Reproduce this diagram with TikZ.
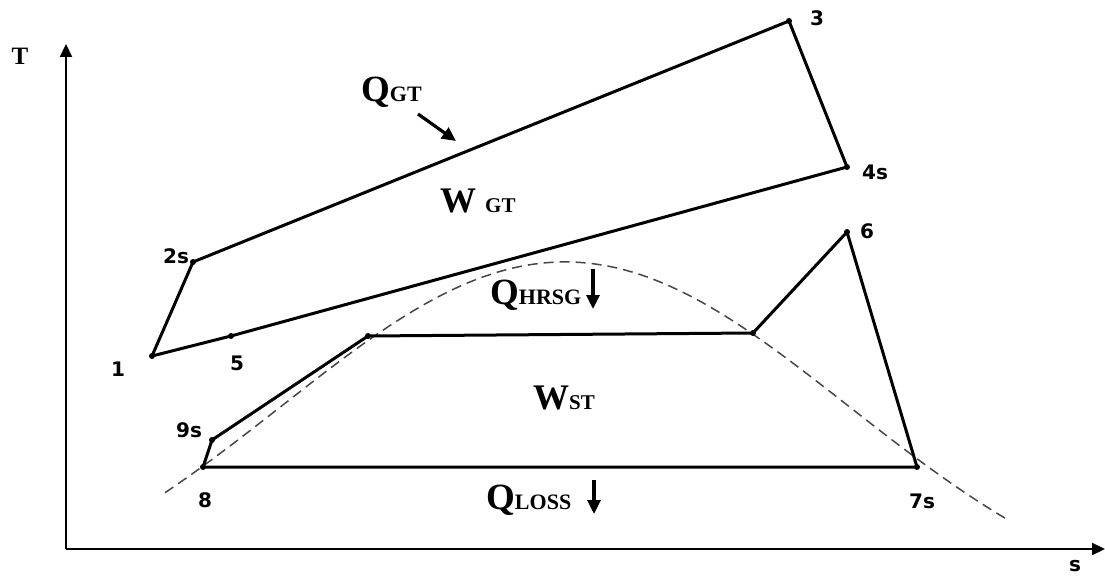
\documentclass[tikz,border=0pt]{standalone}
\usepackage{fontspec}
\setmainfont{Liberation Serif}
\newfontfamily\labfont{DejaVu Sans}
\usetikzlibrary{arrows.meta}
\begin{document}
\begin{tikzpicture}[x=1pt,y=-1pt,
  cyc/.style={line width=3pt, line join=round},
  axis/.style={line width=2.2pt, -{Triangle[length=13pt,width=12pt]}},
  heat/.style={line width=3.2pt, -{Triangle[length=14pt,width=13pt]}},
  dome/.style={line width=1.5pt, dash pattern=on 10pt off 6pt, gray!55!black},
  dot/.style={circle, fill, inner sep=0pt, minimum size=6pt},
  num/.style={font=\labfont\bfseries\fontsize{20}{20}\selectfont, inner sep=0pt},
  qty/.style={font=\bfseries, inner sep=0pt, anchor=base west}]
\useasboundingbox (0,0) rectangle (1105,577);
% axes
\coordinate (o) at (66,549);
\coordinate (ytip) at (66,44);
\coordinate (xtip) at (1105,549);
\draw[axis] (o) -- (ytip);
\draw[axis] (o) -- (xtip);
\node[font=\bfseries\fontsize{25}{25}\selectfont, inner sep=0pt] (T) at (20,56) {T};
\node[num] (s) at (1075,566) {s};
% dome
\draw[dome] plot[domain=165:1005, samples=120, smooth] (\x, {262+365*(1-exp(-((\x-565)/400)^2))});
% gas turbine cycle
\node[dot] (p1) at (152,356) {};
\node[dot] (p2) at (193,262) {};
\node[dot] (p3) at (789,21) {};
\node[dot] (p4) at (847,167) {};
\node[dot] (p5) at (231,336) {};
\draw[cyc] (p1.center) -- (p2.center) -- (p3.center) -- (p4.center) -- (p5.center) -- (p1.center);
% steam cycle
\node[dot] (p8) at (203,467) {};
\node[dot] (p9) at (212,440) {};
\node[dot] (pa) at (368,336) {};
\node[dot] (pb) at (753,333) {};
\node[dot] (p6) at (847,232) {};
\node[dot] (p7) at (917,467) {};
\draw[cyc] (p8.center) -- (p9.center) -- (pa.center) -- (pb.center) -- (p6.center) -- (p7.center) -- (p8.center);
% point labels
\node[num] (l1) at (118,369) {1};
\node[num] (l2) at (176,256) {2s};
\node[num] (l3) at (817,18) {3};
\node[num] (l4) at (875,172) {4s};
\node[num] (l5) at (237,363) {5};
\node[num] (l6) at (867,231) {6};
\node[num] (l7) at (922,501) {7s};
\node[num] (l8) at (205,500) {8};
\node[num] (l9) at (189,430) {9s};
% quantities
\node[qty] (qgt) at (361,102) {\fontsize{37}{37}\selectfont Q\fontsize{22}{22}\selectfont GT};
\node[qty] (wgt) at (440,213) {\fontsize{36}{36}\selectfont W\hspace{9pt}\fontsize{21}{21}\selectfont GT};
\node[qty] (qhrsg) at (490,305) {\fontsize{37}{37}\selectfont Q\fontsize{22}{22}\selectfont HRSG};
\node[qty] (wst) at (533,409) {\fontsize{36}{36}\selectfont W\fontsize{21}{21}\selectfont ST};
\node[qty] (qloss) at (486,509) {\fontsize{37}{37}\selectfont Q\fontsize{22}{22}\selectfont LOSS};
% heat arrows
\coordinate (a1s) at (418,114);
\coordinate (a1e) at (456,141);
\draw[heat] (a1s) -- (a1e);
\coordinate (a2s) at (593,269);
\coordinate (a2e) at (593,309);
\draw[heat] (a2s) -- (a2e);
\coordinate (a3s) at (594,480);
\coordinate (a3e) at (594,514);
\draw[heat] (a3s) -- (a3e);
\end{tikzpicture}
\end{document}
